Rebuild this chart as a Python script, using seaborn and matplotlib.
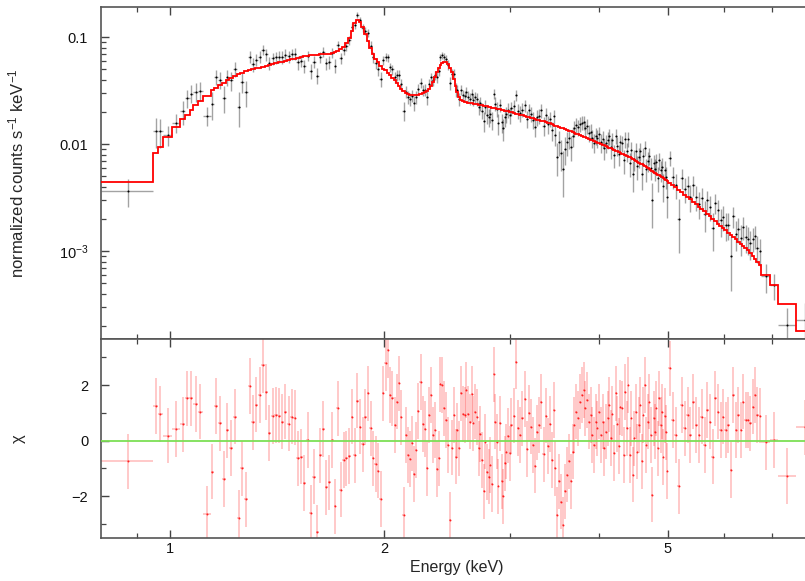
import matplotlib

matplotlib.use("Agg")
import matplotlib.pyplot as plt
from matplotlib.ticker import FixedLocator, FixedFormatter, NullFormatter
import numpy as np
import seaborn as sns

sns.set_theme(style="ticks")
plt.rcParams["font.family"] = ["Liberation Sans", "DejaVu Sans"]
plt.rcParams["mathtext.fontset"] = "custom"
plt.rcParams["mathtext.rm"] = "Liberation Sans"
plt.rcParams["mathtext.it"] = "Liberation Sans:italic"
plt.rcParams["mathtext.default"] = "regular"

# ---------------------------------------------------------
# spectrum: bin edges (keV), folded model
# (counts/s/keV), residuals (chi) and 1-sigma error / model
# ---------------------------------------------------------
edges = [
    0.800, 0.948, 0.963, 0.978, 1.008, 1.035, 1.052, 1.066, 1.079, 1.095,
    1.112, 1.141, 1.153, 1.168, 1.183, 1.198, 1.212, 1.227, 1.242, 1.256,
    1.271, 1.287, 1.302, 1.316, 1.330, 1.344, 1.360, 1.373, 1.387, 1.403,
    1.417, 1.431, 1.446, 1.461, 1.476, 1.491, 1.506, 1.522,
    1.538, 1.554, 1.570, 1.586, 1.602, 1.618, 1.634, 1.650, 1.666, 1.682,
    1.698, 1.714, 1.730, 1.746, 1.762, 1.778, 1.794, 1.810, 1.826, 1.842,
    1.858, 1.874, 1.890, 1.906, 1.922, 1.938, 1.954, 1.970, 1.986, 2.002,
    2.017, 2.032, 2.047, 2.062, 2.077, 2.092, 2.107, 2.122, 2.137, 2.152,
    2.167, 2.182, 2.197, 2.212, 2.227, 2.242, 2.257, 2.272, 2.287, 2.302,
    2.317, 2.332, 2.347, 2.362, 2.377, 2.392, 2.407, 2.422, 2.437, 2.452,
    2.467, 2.482, 2.497, 2.512, 2.527, 2.542, 2.557, 2.572, 2.587, 2.602,
    2.617, 2.632, 2.647, 2.662, 2.677, 2.692, 2.707, 2.722, 2.737, 2.752,
    2.767, 2.782, 2.797, 2.812, 2.827, 2.842, 2.857, 2.872, 2.887, 2.902,
    2.917, 2.932, 2.947, 2.962, 2.977, 2.992, 3.007,
    3.029, 3.051, 3.073, 3.095, 3.117, 3.139, 3.161, 3.183, 3.205, 3.227,
    3.249, 3.271, 3.293, 3.315, 3.337, 3.359, 3.381, 3.403, 3.425, 3.447,
    3.469, 3.491, 3.513, 3.535, 3.557, 3.579, 3.601, 3.623, 3.645, 3.667,
    3.689, 3.711, 3.733, 3.755, 3.777, 3.799, 3.821, 3.843, 3.865, 3.887,
    3.909, 3.931, 3.953, 3.975, 3.997, 4.019, 4.041, 4.063, 4.085, 4.107,
    4.129, 4.151, 4.173, 4.195, 4.217, 4.239, 4.261, 4.283, 4.305, 4.327,
    4.349, 4.371, 4.393, 4.415, 4.437, 4.459, 4.481, 4.503, 4.525, 4.547,
    4.569, 4.591, 4.613, 4.635, 4.657, 4.679, 4.701, 4.723, 4.745, 4.767,
    4.789, 4.811, 4.833, 4.855, 4.877, 4.899, 4.921, 4.943, 4.965, 4.987,
    5.009,
    5.059, 5.109, 5.159, 5.209, 5.259, 5.309, 5.359, 5.409, 5.459, 5.509,
    5.559, 5.609, 5.659, 5.709, 5.759, 5.809, 5.859, 5.909, 5.959, 6.009,
    6.059, 6.109, 6.159, 6.209, 6.259, 6.309, 6.359, 6.409, 6.459, 6.509,
    6.559, 6.609, 6.659, 6.709, 6.759,
    6.970, 7.140, 7.570, 8.000,
]

model = [
    0.00445, 0.00828, 0.00942, 0.01167, 0.01446, 0.01733, 0.01888, 0.02103, 0.02307, 0.02510,
    0.02800, 0.03180, 0.03370, 0.03550, 0.03750, 0.03950, 0.04150, 0.04350, 0.04500, 0.04650,
    0.04780, 0.04900, 0.05000, 0.05100, 0.05200, 0.05300, 0.05400, 0.05500, 0.05600, 0.05700,
    0.05800, 0.05900, 0.06000, 0.06100, 0.06200, 0.06300, 0.06400,
    0.0650, 0.0660, 0.0668, 0.0675, 0.0682, 0.0688, 0.0692, 0.0695, 0.0698, 0.0702,
    0.0715, 0.0730, 0.0750, 0.0775, 0.0815, 0.0880, 0.0990, 0.1150, 0.1350, 0.1450,
    0.1390, 0.1240, 0.1070, 0.0930, 0.0800, 0.0700, 0.0630, 0.0580, 0.0540, 0.0505,
    0.0490, 0.0465, 0.0440, 0.0418, 0.0395, 0.0372, 0.0350, 0.0330, 0.0314, 0.0302,
    0.0295, 0.0290, 0.0288, 0.0287, 0.0288, 0.0290, 0.0293, 0.0298, 0.0305, 0.0315,
    0.0330, 0.0352, 0.0385, 0.0425, 0.0470, 0.0515, 0.0552, 0.0578, 0.0590, 0.0585,
    0.0560, 0.0520, 0.0470, 0.0410, 0.0350, 0.0305, 0.0275, 0.0260, 0.0253, 0.0249,
    0.0246, 0.0244, 0.0242, 0.0240, 0.0238, 0.0237, 0.0235, 0.0233, 0.0232, 0.0230,
    0.0228, 0.0226, 0.0225, 0.0223, 0.0221, 0.0220, 0.0218, 0.0216, 0.0214, 0.0213,
    0.0211, 0.0209, 0.0207, 0.0206, 0.0204, 0.0202, 0.0201,
    0.01980, 0.01954, 0.01929, 0.01904, 0.01879, 0.01855, 0.01831, 0.01807, 0.01784, 0.01761,
    0.01738, 0.01715, 0.01693, 0.01671, 0.01650, 0.01628, 0.01607, 0.01586, 0.01566, 0.01541,
    0.01517, 0.01493, 0.01469, 0.01446, 0.01423, 0.01401, 0.01379, 0.01357, 0.01336, 0.01315,
    0.01294, 0.01274, 0.01254, 0.01234, 0.01214, 0.01195, 0.01176, 0.01158, 0.01140, 0.01122,
    0.01104, 0.01087, 0.01070, 0.01053, 0.01036, 0.01020, 0.01004, 0.00988, 0.00972, 0.00956,
    0.00941, 0.00926, 0.00911, 0.00897, 0.00882, 0.00868, 0.00854, 0.00841, 0.00827, 0.00814,
    0.00801, 0.00788, 0.00776, 0.00763, 0.00751, 0.00739, 0.00727, 0.00713, 0.00699, 0.00685,
    0.00672, 0.00659, 0.00646, 0.00633, 0.00621, 0.00609, 0.00597, 0.00585, 0.00574, 0.00562,
    0.00551, 0.00541, 0.00530, 0.00520, 0.00510, 0.00500, 0.00490, 0.00480, 0.00471, 0.00462,
    0.00453,
    0.00436, 0.00414, 0.00394, 0.00374, 0.00355, 0.00338, 0.00321, 0.00305, 0.00290, 0.00275,
    0.00261, 0.00248, 0.00235, 0.00223, 0.00212, 0.00201, 0.00191, 0.00181, 0.00172, 0.00163,
    0.00156, 0.00149, 0.00142, 0.00135, 0.00129, 0.00123, 0.00117, 0.00112, 0.00107, 0.00102,
    0.00096, 0.00090, 0.00085, 0.00080, 0.00075,
    0.000597, 0.000478, 0.000320, 0.000178,
]

chi = [
    -0.75, 1.25, 0.96, 0.18, 0.42, 0.58, 1.52, 1.52, 1.32, 1.04,
    -2.64, -1.12, 1.25, 0.62, -1.39, 0.37, -0.27, 0.86, -2.78, -1.00,
    -2.12, 1.96, 0.66, 1.30, 1.65, 2.71, 1.75, 0.27, 0.88, 0.92,
    0.90, 0.68, 1.04, 0.61, 0.86, 0.83, -0.64,
    -0.58, -1.53, 0.02, -2.61, -1.30, -3.31, -0.53, 0.41, -1.69, -1.51,
    0.02, -2.37, 1.16, -1.77, -0.70, -0.64, -0.55, 0.86, -0.53, 1.44,
    0.50, -0.14, 0.85, 1.70, 0.44, -0.64, -0.84, -1.08, -2.11, 1.70,
    2.78, 3.26, 1.64, 1.52, 0.56, 1.40, 2.06, 0.84, -2.67, 0.20,
    -0.52, -0.66, -0.10, -1.21, -0.34, 1.07, 2.12, 0.60, 0.42, -1.00,
    0.92, 1.64, 0.20, 0.38, -1.02, -0.64, 2.03, 2.00, 1.16, 0.74,
    -0.16, -2.85, -0.25, 0.92, -0.58, 0.37, -0.28, 1.70, 0.96, 0.92,
    1.82, 0.95, 0.68, 1.67, 0.62, 1.04, 0.85, -0.28, 0.23, -0.70,
    -1.83, -0.04, -1.14, -1.30, -0.88, -1.57, 2.39, 0.68, -0.04, -1.65,
    0.62, -1.47, -2.01, -0.82, -0.40, 0.18, -0.46,
    0.55, 0.90, 2.85, 0.45,
    0.20, 0.80, 1.50, -0.30, 1.00, 0.50, -0.15, -0.90, 0.30, 0.56,
    1.40, -0.50, 0.90, -0.20, 0.60, -0.70, 1.10,
    -1.00, -2.67, -1.47, -2.20, -3.05, -1.83, -1.23, -0.75, -1.47, -0.40,
    0.56, 1.04, 0.80, 1.40, 1.64, 1.82, 1.16, 1.46, 0.68, 0.92,
    0.20, -0.16, 0.68, 0.44, 1.04, 0.20, 0.68, -0.28, 0.32, 0.80,
    1.30, 0.10,
    0.95, -0.45, 1.70, 0.60, -0.20, 1.20, 1.16, -0.52, 1.76, 0.44,
    2.00, -0.52, 0.80, -1.23, 0.08, 1.04, -0.40, 0.56, 1.28, -0.75,
    0.92, 2.00, -0.16, 0.68, 1.40, 0.20, -1.95, 0.80, 0.32, 1.16,
    -0.28, 1.52, 0.56, 1.04, -0.60, 0.90, 0.30, -1.10,
    2.60, 0.74, 0.20, -1.65, 1.28, 0.44, 0.92, 0.20, 1.40, 0.56,
    0.20, 0.86, -0.16, 1.10, 0.68, -0.58, 1.52, 1.04, 0.38, 0.86,
    0.38, 0.56, -1.06, 1.64, 0.38, 0.92, 0.38, 1.40, 0.74, 0.74,
    0.62, 1.22, 1.64, 0.92, 0.90,
    -0.06, 0.02, -1.27, 0.48,
]

sigma_rel = [
    0.24, 0.49, 0.42, 0.22, 0.22, 0.30, 0.28, 0.27, 0.26, 0.25,
    0.13, 0.22, 0.21, 0.20, 0.20, 0.19, 0.19, 0.18, 0.18, 0.18,
    0.17, 0.17, 0.17, 0.16, 0.16, 0.16, 0.16, 0.15, 0.15, 0.15,
    0.15, 0.15, 0.14, 0.14, 0.14, 0.14, 0.14,
    0.12, 0.12, 0.11, 0.11, 0.11, 0.11, 0.11, 0.11, 0.11, 0.11,
    0.11, 0.11, 0.10, 0.10, 0.10, 0.09, 0.09, 0.09, 0.08, 0.08,
    0.08, 0.09, 0.09, 0.10, 0.10, 0.11, 0.11, 0.12, 0.12, 0.12,
    0.12, 0.12, 0.12, 0.13, 0.13, 0.13, 0.13, 0.13, 0.13, 0.13,
    0.13, 0.13, 0.13, 0.13, 0.13, 0.13, 0.13, 0.13, 0.13, 0.13,
    0.12, 0.12, 0.11, 0.10, 0.10, 0.10, 0.09, 0.09, 0.09, 0.09,
    0.10, 0.10, 0.11, 0.12, 0.13, 0.13, 0.14, 0.14, 0.14, 0.14,
    0.14, 0.14, 0.14, 0.14, 0.14, 0.15, 0.15, 0.15, 0.15, 0.15,
    0.15, 0.15, 0.15, 0.15, 0.15, 0.15, 0.15, 0.16, 0.16, 0.16,
    0.16, 0.16, 0.16, 0.16, 0.16, 0.16, 0.16,
    0.17, 0.17, 0.17, 0.17, 0.17, 0.17, 0.17, 0.17, 0.17, 0.17,
    0.17, 0.17, 0.17, 0.18, 0.18, 0.18, 0.18, 0.18, 0.18, 0.18,
    0.18, 0.18, 0.18, 0.19, 0.19, 0.19, 0.19, 0.19, 0.19, 0.19,
    0.19, 0.19, 0.19, 0.20, 0.20, 0.20, 0.20, 0.20, 0.20, 0.20,
    0.20, 0.20, 0.20, 0.21, 0.21, 0.21, 0.21, 0.21, 0.21, 0.21,
    0.21, 0.22, 0.22, 0.22, 0.22, 0.22, 0.22, 0.22, 0.22, 0.22,
    0.23, 0.23, 0.23, 0.23, 0.23, 0.23, 0.23, 0.23, 0.23, 0.23,
    0.24, 0.24, 0.24, 0.24, 0.24, 0.24, 0.24, 0.24, 0.24, 0.24,
    0.25, 0.25, 0.25, 0.25, 0.25, 0.25, 0.25, 0.25, 0.25, 0.25,
    0.26,
    0.27, 0.27, 0.28, 0.28, 0.28, 0.29, 0.29, 0.29, 0.30, 0.30,
    0.30, 0.31, 0.31, 0.31, 0.32, 0.32, 0.32, 0.33, 0.33, 0.33,
    0.34, 0.34, 0.34, 0.35, 0.35, 0.35, 0.36, 0.36, 0.36, 0.37,
    0.37, 0.37, 0.38, 0.38, 0.38,
    0.30, 0.28, 0.29, 0.57,
]

major_e = [1, 2, 5]
minor_e = [0.9, 3, 4, 6, 7]
flux_ticks = [1e-3, 1e-2, 1e-1]
flux_labels = ["$10^{-3}$", "0.01", "0.1"]

# ---------------------------------------------------------
edges = np.array(edges)
model = np.array(model)
chi = np.array(chi)
sigma = model * np.array(sigma_rel)
flux = model + chi * sigma
centre = 0.5 * (edges[:-1] + edges[1:])
half = 0.5 * np.diff(edges)

fig = plt.figure(figsize=(8.05, 5.81), dpi=100)
ax1 = fig.add_axes([0.1251, 0.4160, 0.8848, 0.5714])
ax2 = fig.add_axes([0.1251, 0.0745, 0.8848, 0.3415], sharex=ax1)

# top: data + folded model
ax1.errorbar(centre, flux, xerr=half, yerr=sigma, fmt="none",
             ecolor=(0, 0, 0, 0.36), elinewidth=1.0, capsize=0)
sns.scatterplot(x=centre, y=flux, ax=ax1, color="black", s=2, linewidth=0)
ax1.stairs(model, edges, color="#ff0000", lw=1.3, baseline=None, zorder=4)
ax1.set_xscale("log")
ax1.set_yscale("log")
ax1.set_xlim(0.8, 8.0)
ax1.set_ylim(1.5e-4, 0.19)
ax1.yaxis.set_major_locator(FixedLocator(flux_ticks))
ax1.yaxis.set_major_formatter(FixedFormatter(flux_labels))
ax1.yaxis.set_minor_formatter(NullFormatter())
ax1.set_ylabel("normalized counts s$^{-1}$ keV$^{-1}$", fontsize=12)
ax1.tick_params(axis="x", which="both", labelbottom=False)

# bottom: residuals
ax2.errorbar(centre, chi, xerr=half, yerr=1.0, fmt="none",
             ecolor=(1, 0, 0, 0.25), elinewidth=1.2, capsize=0)
sns.scatterplot(x=centre, y=chi, ax=ax2, color="red", s=2, linewidth=0, alpha=0.8)
ax2.axhline(0, color="#7ddf55", lw=1.3, zorder=5)
ax2.set_ylim(-3.5, 3.65)
ax2.set_yticks([-2, 0, 2])
ax2.set_yticks([-3, -1, 1, 3], minor=True)
ax2.set_yticklabels(["\u22122", "0", "2"])
ax2.set_ylabel("\u03c7", fontsize=12)
ax2.set_xlabel("Energy (keV)", fontsize=11.5, labelpad=3)

ax2.xaxis.set_major_locator(FixedLocator(major_e))
ax2.xaxis.set_major_formatter(FixedFormatter([str(v) for v in major_e]))
ax2.xaxis.set_minor_locator(FixedLocator(minor_e))
ax2.xaxis.set_minor_formatter(NullFormatter())

for ax in (ax1, ax2):
    for sp in ax.spines.values():
        sp.set_color("#555555")
        sp.set_linewidth(1.2)
    ax.tick_params(which="both", direction="in", top=True, right=False,
                   color="#444444", labelsize=10.5, labelcolor="#111111")
    ax.tick_params(which="major", length=6, width=1.0)
    ax.tick_params(which="minor", length=3.5, width=0.9)
    ax.tick_params(axis="y", pad=9)
    ax.tick_params(axis="x", pad=3)
    ax.yaxis.set_label_coords(-0.105, 0.5)
    ax.grid(False)

fig.savefig("out.png", dpi=100)
